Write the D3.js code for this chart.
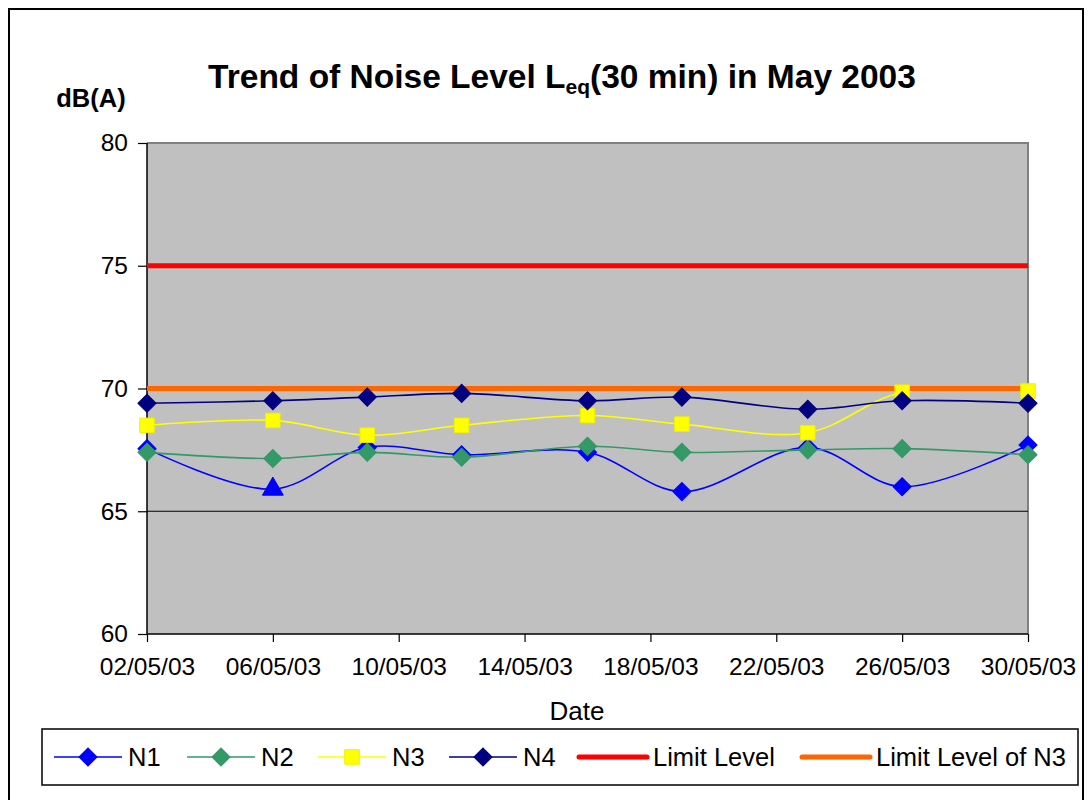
<!DOCTYPE html>
<html>
<head>
<meta charset="utf-8">
<script src="https://cdn.jsdelivr.net/npm/d3@7"></script>
<style>
  body { margin: 0; background: #fff; }
  svg { display: block; font-family: "Liberation Sans", Arial, sans-serif; }
</style>
</head>
<body>
<script>
// measurement dates (May 2003)
const dates = ["2003-05-02", "2003-05-06", "2003-05-09", "2003-05-12", "2003-05-16",
               "2003-05-19", "2003-05-23", "2003-05-26", "2003-05-30"];

// Leq(30 min) readings, dB(A)
const n1 = [67.55, 65.9, 67.6, 67.3, 67.4, 65.8, 67.6, 66.0, 67.7];
const n2 = [67.4, 67.15, 67.4, 67.2, 67.65, 67.4, 67.5, 67.55, 67.3];
const n3 = [68.5, 68.7, 68.1, 68.5, 68.9, 68.55, 68.2, 69.85, 69.9];
const n4 = [69.4, 69.5, 69.65, 69.8, 69.5, 69.65, 69.15, 69.5, 69.4];
const limitLevel = [75, 75, 75, 75, 75, 75, 75, 75, 75];
const limitLevelN3 = [70, 70, 70, 70, 70, 70, 70, 70, 70];

// N1 on 06/05 was plotted with a triangle marker in the original
const n1Markers = ["diamond", "triangle", "diamond", "diamond", "diamond",
                   "diamond", "diamond", "diamond", "diamond"];

const yTicks = [60, 65, 70, 75, 80];
const tickStepDays = 4;

const width = 1088, height = 800;
const margin = { left: 147, right: 60, top: 143, bottom: 166 };

const parse = d3.timeParse("%Y-%m-%d");
const dateObjs = dates.map(parse);
const xStart = dateObjs[0], xEnd = dateObjs[dateObjs.length - 1];

const x = d3.scaleTime()
  .domain([xStart, xEnd])
  .range([margin.left, width - margin.right]);

const y = d3.scaleLinear()
  .domain([60, 80])
  .range([height - margin.bottom, margin.top]);

const xTickVals = d3.range(0, d3.timeDay.count(xStart, xEnd) + 1, tickStepDays)
  .map(k => d3.timeDay.offset(xStart, k));

const svg = d3.select("body").append("svg")
  .attr("width", width)
  .attr("height", height);

// outer chart frame
svg.append("rect")
  .attr("x", 9).attr("y", 9)
  .attr("width", 1074).attr("height", 810)
  .attr("fill", "#fff")
  .attr("stroke", "#000")
  .attr("stroke-width", 2);

// plot area
const [px0, px1] = x.range();
const [py1, py0] = y.range();
svg.append("rect")
  .attr("x", px0).attr("y", py0)
  .attr("width", px1 - px0).attr("height", py1 - py0)
  .attr("fill", "#c0c0c0");
svg.append("path")
  .attr("d", `M${px0},${py0}H${px1}V${py1}`)
  .attr("fill", "none")
  .attr("stroke", "#808080")
  .attr("stroke-width", 2);

// horizontal gridlines
svg.append("g")
  .selectAll("line")
  .data(yTicks.slice(1, -1))
  .join("line")
  .attr("x1", px0).attr("x2", px1)
  .attr("y1", d => y(d)).attr("y2", d => y(d))
  .attr("stroke", "#000")
  .attr("stroke-width", 1);

// axes
const yAxis = svg.append("g")
  .attr("transform", `translate(${px0},0)`)
  .call(d3.axisLeft(y).tickValues(yTicks).tickSize(9).tickPadding(10));
const xAxis = svg.append("g")
  .attr("transform", `translate(0,${py1})`)
  .call(d3.axisBottom(x).tickValues(xTickVals).tickSize(8).tickPadding(16)
    .tickFormat(d3.timeFormat("%d/%m/%y")));

[yAxis, xAxis].forEach(g => {
  g.select(".domain").attr("stroke", "#000").attr("stroke-width", 1.5);
  g.selectAll(".tick line").attr("stroke", "#000").attr("stroke-width", 1.2);
  g.selectAll(".tick text")
    .attr("fill", "#000")
    .attr("font-size", 24.5)
    .attr("font-family", "Liberation Sans, Arial, sans-serif");
});
xAxis.select(".domain").attr("d", `M${px0},0H${px1}`);
yAxis.select(".domain").attr("d", `M0,${py1}V${py0}`);

// series definitions
const series = [
  { name: "N1", values: n1, color: "#0000ff", width: 1.6, marker: "diamond", fill: "#0000ff" },
  { name: "N2", values: n2, color: "#339966", width: 1.6, marker: "diamond", fill: "#339966" },
  { name: "N3", values: n3, color: "#ffff00", width: 1.6, marker: "square", fill: "#ffff00" },
  { name: "N4", values: n4, color: "#000080", width: 1.6, marker: "diamond", fill: "#000080" },
  { name: "Limit Level", values: limitLevel, color: "#ff0000", width: 5, marker: null },
  { name: "Limit Level of N3", values: limitLevelN3, color: "#ff6600", width: 5, marker: null }
];

const line = d3.line()
  .x(d => x(d.date))
  .y(d => y(d.value))
  .curve(d3.curveCatmullRom.alpha(0.5));

function markerPath(type) {
  if (type === "square") return d3.symbol(d3.symbolSquare, 210)();
  if (type === "triangle") return d3.symbol(d3.symbolTriangle, 190)();
  return d3.symbol(d3.symbolSquare, 165)();
}
function markerRotate(type) {
  return type === "diamond" ? 45 : 0;
}

// lines first (all series), markers on top
series.forEach(s => {
  const pts = s.values.map((v, i) => ({ date: dateObjs[i], value: v, i }));
  svg.append("path")
    .datum(pts)
    .attr("d", line)
    .attr("fill", "none")
    .attr("stroke", s.color)
    .attr("stroke-width", s.width)
    .attr("stroke-linejoin", "round");
});

series.filter(s => s.marker).forEach(s => {
  const pts = s.values.map((v, i) => ({ date: dateObjs[i], value: v, i }));
  svg.append("g")
    .selectAll("path")
    .data(pts)
    .join("path")
    .attr("d", d => {
      const t = s.name === "N1" ? n1Markers[d.i] : s.marker;
      return markerPath(t);
    })
    .attr("transform", d => {
      const t = s.name === "N1" ? n1Markers[d.i] : s.marker;
      return `translate(${x(d.date)},${y(d.value)}) rotate(${markerRotate(t)})`;
    })
    .attr("fill", s.fill)
    .attr("stroke", s.marker === "square" ? "#f0f000" : s.color)
    .attr("stroke-width", 1);
});

// title
const title = svg.append("text")
  .attr("x", 562)
  .attr("y", 88)
  .attr("text-anchor", "middle")
  .attr("font-size", 33.5)
  .attr("font-weight", "bold")
  .attr("fill", "#000");
title.append("tspan").text("Trend of Noise Level L");
title.append("tspan").attr("font-size", 21).attr("dy", 6).text("eq");
title.append("tspan").attr("dy", -6).text("(30 min) in May 2003");

// axis titles
svg.append("text")
  .attr("x", 91).attr("y", 107)
  .attr("text-anchor", "middle")
  .attr("font-size", 25.5)
  .attr("font-weight", "bold")
  .text("dB(A)");

svg.append("text")
  .attr("x", 577).attr("y", 720)
  .attr("text-anchor", "middle")
  .attr("font-size", 26)
  .text("Date");

// legend
const legendOrder = ["N1", "N2", "N3", "N4", "Limit Level", "Limit Level of N3"];
const legendX = [54, 187, 318, 449, 579, 802];
const legend = svg.append("g");
legend.append("rect")
  .attr("x", 42).attr("y", 729)
  .attr("width", 1036).attr("height", 56)
  .attr("fill", "#fff")
  .attr("stroke", "#000")
  .attr("stroke-width", 1.5);

legendOrder.forEach((name, k) => {
  const s = series.find(d => d.name === name);
  const g = legend.append("g").attr("transform", `translate(${legendX[k]},757)`);
  g.append("line")
    .attr("x1", 0).attr("x2", 68)
    .attr("stroke", s.color)
    .attr("stroke-width", s.width)
    .attr("stroke-linecap", s.marker ? "butt" : "round");
  if (s.marker) {
    g.append("path")
      .attr("d", markerPath(s.marker))
      .attr("transform", `translate(34,0) rotate(${markerRotate(s.marker)})`)
      .attr("fill", s.fill)
      .attr("stroke", s.marker === "square" ? "#f0f000" : s.color);
  }
  g.append("text")
    .attr("x", 74).attr("y", 9)
    .attr("font-size", 25.5)
    .text(name);
});
</script>
</body>
</html>
